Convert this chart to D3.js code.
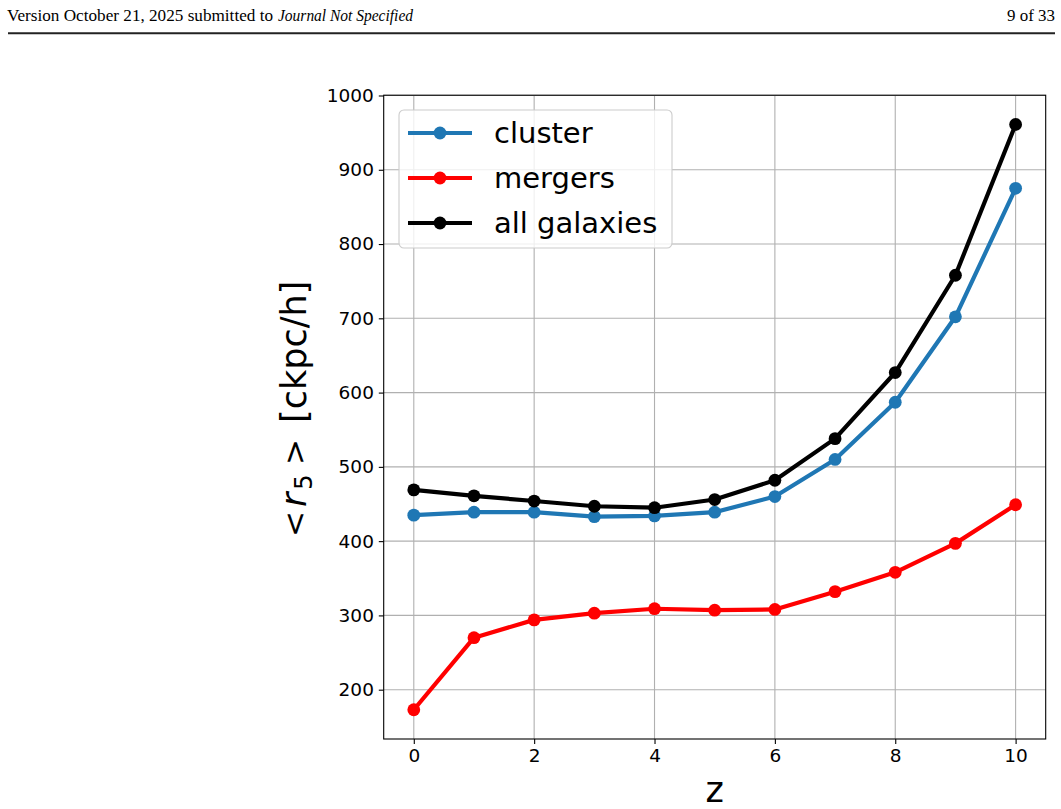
<!DOCTYPE html>
<html>
<head>
<meta charset="utf-8">
<script src="https://cdn.jsdelivr.net/npm/d3@7"></script>
<style>
  html, body { margin: 0; padding: 0; background: #fff; }
  svg { display: block; }
</style>
</head>
<body>
<svg id="chart" width="1061" height="809"></svg>
<script>
// ---- data ----
const zValues = [0, 1, 2, 3, 4, 5, 6, 7, 8, 9, 10];
const clusterValues = [435, 439, 439, 433, 434, 439, 460, 510, 587, 702, 875];
const mergerValues = [173, 270, 294, 303, 309, 307, 308, 332, 358, 397, 449];
const allValues = [469, 461, 454, 447, 445, 456, 482, 538, 627, 758, 961];
const xTicks = [0, 2, 4, 6, 8, 10];
const yTicks = [200, 300, 400, 500, 600, 700, 800, 900, 1000];
const seriesNames = ["cluster", "mergers", "all galaxies"];
const seriesColors = ["#1f77b4", "#ff0000", "#000000"];
const headerLeft = "Version October 21, 2025 submitted to";
const headerItalic = "Journal Not Specified";
const headerRight = "9 of 33";

const series = [clusterValues, mergerValues, allValues].map((vals, i) => ({
  name: seriesNames[i], color: seriesColors[i],
  points: zValues.map((z, j) => ({ z, v: vals[j] }))
}));

const svg = d3.select("#chart");

// ---- header ----
const serif = "Liberation Serif, Times New Roman, serif";
svg.append("text").attr("x", 7).attr("y", 20.5)
  .attr("font-family", serif).attr("font-size", 16)
  .attr("textLength", 266).attr("lengthAdjust", "spacingAndGlyphs")
  .text(headerLeft);
svg.append("text").attr("x", 278).attr("y", 20.5)
  .attr("font-family", serif).attr("font-size", 16).attr("font-style", "italic")
  .attr("textLength", 135).attr("lengthAdjust", "spacingAndGlyphs")
  .text(headerItalic);
svg.append("text").attr("x", 1007).attr("y", 20.5)
  .attr("font-family", serif).attr("font-size", 16)
  .attr("textLength", 48).attr("lengthAdjust", "spacingAndGlyphs")
  .text(headerRight);
svg.append("line").attr("x1", 8).attr("x2", 1055).attr("y1", 33.3).attr("y2", 33.3)
  .attr("stroke", "#222").attr("stroke-width", 2);

// ---- plot geometry ----
const L = 383.7, R = 1045.7, T = 95.2, B = 739;
const x = d3.scaleLinear().domain([-0.5, 10.5]).range([L, R]);
const y = d3.scaleLinear().domain([133.6, 1000.4]).range([B, T]);

const font = "DejaVu Sans, Verdana, sans-serif";

// grid
const g = svg.append("g");
g.selectAll("line.gx").data(xTicks).enter().append("line")
  .attr("x1", d => x(d)).attr("x2", d => x(d)).attr("y1", T).attr("y2", B)
  .attr("stroke", "#b0b0b0").attr("stroke-width", 1.1);
g.selectAll("line.gy").data(yTicks).enter().append("line")
  .attr("y1", d => y(d)).attr("y2", d => y(d)).attr("x1", L).attr("x2", R)
  .attr("stroke", "#b0b0b0").attr("stroke-width", 1.1);

// axes
const xAxis = d3.axisBottom(x).tickValues(xTicks).tickSize(4.9).tickPadding(4.9).tickFormat(d3.format("d"));
const yAxis = d3.axisLeft(y).tickValues(yTicks).tickSize(4.9).tickPadding(4.9).tickFormat(d3.format("d"));
const gx = svg.append("g").attr("transform", `translate(0,${B})`).call(xAxis);
const gy = svg.append("g").attr("transform", `translate(${L},0)`).call(yAxis);
[gx, gy].forEach(a => {
  a.select(".domain").remove();
  a.selectAll(".tick line").attr("stroke", "#000").attr("stroke-width", 1.1);
  a.selectAll(".tick text").attr("font-family", font).attr("font-size", 18.5).attr("fill", "#000");
});

// lines + markers
const line = d3.line().x(d => x(d.z)).y(d => y(d.v));
series.forEach(s => {
  svg.append("path").datum(s.points).attr("d", line)
    .attr("fill", "none").attr("stroke", s.color).attr("stroke-width", 4.2)
    .attr("stroke-linejoin", "round").attr("stroke-linecap", "butt");
  svg.selectAll(null).data(s.points).enter().append("circle")
    .attr("cx", d => x(d.z)).attr("cy", d => y(d.v)).attr("r", 6.4)
    .attr("fill", s.color);
});

// frame
svg.append("rect").attr("x", L).attr("y", T).attr("width", R - L).attr("height", B - T)
  .attr("fill", "none").attr("stroke", "#000").attr("stroke-width", 1.1);

// legend
const lg = svg.append("g");
lg.append("rect").attr("x", 399).attr("y", 110).attr("width", 273).attr("height", 138)
  .attr("rx", 5).attr("ry", 5)
  .attr("fill", "#fff").attr("fill-opacity", 0.8)
  .attr("stroke", "#cccccc").attr("stroke-width", 1.1);
series.forEach((s, i) => {
  const cy = 133 + i * 45;
  lg.append("line").attr("x1", 408).attr("x2", 472).attr("y1", cy).attr("y2", cy)
    .attr("stroke", s.color).attr("stroke-width", 4.2);
  lg.append("circle").attr("cx", 440).attr("cy", cy).attr("r", 6.4).attr("fill", s.color);
  lg.append("text").attr("x", 494).attr("y", cy).attr("dy", "0.36em")
    .attr("font-family", font).attr("font-size", 29).attr("fill", "#000").text(s.name);
});

// axis labels
svg.append("text").attr("x", (L + R) / 2).attr("y", 802)
  .attr("text-anchor", "middle").attr("font-family", font).attr("font-size", 35)
  .text("z");

const yl = svg.append("text")
  .attr("transform", `translate(306,538) rotate(-90)`)
  .attr("font-family", font).attr("font-size", 35).attr("fill", "#000");
yl.append("tspan").attr("x", 1).attr("y", -1).attr("font-size", 31).text("<");
yl.append("tspan").attr("x", 31).attr("y", 0).attr("font-style", "italic").text("r");
yl.append("tspan").attr("x", 48).attr("y", 6).attr("font-size", 24.5).text("5");
yl.append("tspan").attr("x", 73).attr("y", -1).attr("font-size", 31).text(">");
yl.append("tspan").attr("x", 115).attr("y", 0).text("[ckpc/h]");
</script>
</body>
</html>
